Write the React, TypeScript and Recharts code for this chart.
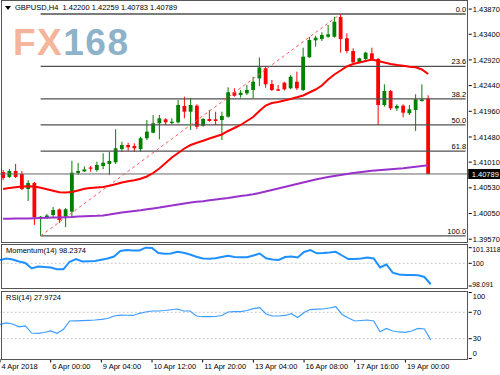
import React from 'react'
import { ComposedChart, Bar, Line, XAxis, YAxis, ReferenceLine } from 'recharts'

const FONT = "'Liberation Sans', Arial, sans-serif"

// GBPUSD H4 candles, 4 Apr 2018 -> 19 Apr 2018
const OPEN = [1.40826, 1.40733, 1.40845, 1.40789, 1.40509, 1.40621, 1.39960, 1.39985, 1.40023, 1.40126,
  1.39991, 1.40084, 1.40808, 1.40836, 1.40910, 1.40863, 1.40938, 1.40976, 1.41007, 1.41256,
  1.41330, 1.41312, 1.41256, 1.41456, 1.41560, 1.41736, 1.41810, 1.41741, 1.41754, 1.42059,
  1.41952, 1.42065, 1.41691, 1.41816, 1.41810, 1.41797, 1.41859, 1.42315, 1.42264, 1.42296,
  1.42358, 1.42575, 1.42763, 1.42470, 1.42371, 1.42494, 1.42390, 1.42513, 1.42358, 1.42969,
  1.43286, 1.43310, 1.43353, 1.43353, 1.43721, 1.43324, 1.43086, 1.42875, 1.42937, 1.43043,
  1.42937, 1.42078, 1.42339, 1.42016, 1.42065, 1.41923, 1.41984, 1.42152, 1.42200]
const HIGH = [1.40863, 1.40882, 1.40976, 1.40845, 1.40677, 1.40639, 1.40004, 1.40042, 1.40172, 1.40144,
  1.40154, 1.41037, 1.40994, 1.40929, 1.40938, 1.41018, 1.41175, 1.41205, 1.41624, 1.41392,
  1.41373, 1.41362, 1.41485, 1.41797, 1.41891, 1.41891, 1.41829, 1.41829, 1.42171, 1.42233,
  1.42203, 1.42091, 1.41835, 1.41984, 1.41952, 1.41952, 1.42408, 1.42390, 1.42358, 1.42451,
  1.42606, 1.42965, 1.42793, 1.42545, 1.42451, 1.42513, 1.42638, 1.42700, 1.43148, 1.43353,
  1.43372, 1.43436, 1.43572, 1.43727, 1.43778, 1.43417, 1.43137, 1.42961, 1.43073, 1.43148,
  1.42956, 1.42464, 1.42358, 1.42091, 1.42091, 1.42078, 1.42278, 1.42464, 1.42259]
const LOW = [1.40677, 1.40714, 1.40714, 1.40490, 1.40284, 1.39836, 1.39631, 1.39948, 1.39985, 1.39873,
  1.39799, 1.39985, 1.40770, 1.40826, 1.40832, 1.40832, 1.40877, 1.40770, 1.40976, 1.41205,
  1.41224, 1.41205, 1.41205, 1.41424, 1.41549, 1.41437, 1.41704, 1.41717, 1.41736, 1.41829,
  1.41611, 1.41629, 1.41672, 1.41766, 1.41704, 1.41424, 1.41840, 1.42233, 1.42214, 1.42264,
  1.42203, 1.42433, 1.42401, 1.42339, 1.42339, 1.42352, 1.42377, 1.42358, 1.42339, 1.42961,
  1.43167, 1.43273, 1.43335, 1.43335, 1.43055, 1.43043, 1.42857, 1.42857, 1.42918, 1.42900,
  1.41704, 1.42046, 1.41984, 1.41966, 1.41848, 1.41891, 1.41592, 1.42141, 1.40783]
const CLOSE = [1.40714, 1.40845, 1.40733, 1.40509, 1.40621, 1.39985, 1.39990, 1.40013, 1.40116, 1.39929,
  1.40129, 1.40813, 1.40845, 1.40873, 1.40888, 1.40957, 1.40999, 1.41032, 1.41269, 1.41330,
  1.41287, 1.41269, 1.41456, 1.41579, 1.41736, 1.41829, 1.41754, 1.41766, 1.42078, 1.41952,
  1.42078, 1.41672, 1.41816, 1.41779, 1.41779, 1.41872, 1.42315, 1.42251, 1.42307, 1.42358,
  1.42513, 1.42778, 1.42464, 1.42358, 1.42345, 1.42371, 1.42606, 1.42390, 1.42980, 1.43292,
  1.43335, 1.43385, 1.43398, 1.43634, 1.43310, 1.43086, 1.42875, 1.42950, 1.43055, 1.42918,
  1.42078, 1.42339, 1.42016, 1.42059, 1.41934, 1.41997, 1.42184, 1.42180, 1.40789]

// moving averages (red fast, purple slow)
const MA_FAST = [1.40508, 1.40527, 1.40542, 1.40553, 1.40561, 1.40555, 1.40531, 1.40503, 1.40475, 1.40449,
  1.40443, 1.40452, 1.40481, 1.40512, 1.40527, 1.40537, 1.40546, 1.40568, 1.40598, 1.40630,
  1.40654, 1.40673, 1.40699, 1.40742, 1.40807, 1.40891, 1.40994, 1.41097, 1.41181, 1.41265,
  1.41330, 1.41373, 1.41411, 1.41452, 1.41489, 1.41527, 1.41592, 1.41648, 1.41704, 1.41779,
  1.41853, 1.41966, 1.42068, 1.42115, 1.42134, 1.42162, 1.42190, 1.42221, 1.42255, 1.42311,
  1.42367, 1.42442, 1.42554, 1.42647, 1.42722, 1.42797, 1.42844, 1.42872, 1.42900, 1.42928,
  1.42900, 1.42872, 1.42844, 1.42825, 1.42812, 1.42793, 1.42782, 1.42741, 1.42657]
const MA_SLOW = [1.39952, 1.39954, 1.39956, 1.39957, 1.39959, 1.39963, 1.39967, 1.39971, 1.39974, 1.39978,
  1.39982, 1.39985, 1.39993, 1.39999, 1.40004, 1.40008, 1.40015, 1.40030, 1.40049, 1.40068,
  1.40083, 1.40098, 1.40112, 1.40129, 1.40144, 1.40161, 1.40182, 1.40200, 1.40219, 1.40238,
  1.40254, 1.40269, 1.40281, 1.40296, 1.40310, 1.40325, 1.40340, 1.40359, 1.40378, 1.40393,
  1.40411, 1.40434, 1.40462, 1.40490, 1.40518, 1.40546, 1.40574, 1.40602, 1.40630, 1.40658,
  1.40686, 1.40710, 1.40733, 1.40751, 1.40770, 1.40789, 1.40808, 1.40822, 1.40835, 1.40849,
  1.40860, 1.40869, 1.40878, 1.40888, 1.40897, 1.40910, 1.40923, 1.40938, 1.40953]

const MOMENTUM = [100.277, 100.403, 100.319, 100.151, 100.025, 99.563, 99.731, 99.689, 99.647, 99.495,
  99.495, 100.134, 100.361, 100.151, 100.168, 100.193, 100.303, 100.403, 100.572, 101.034,
  101.118, 101.076, 101.076, 101.312, 101.287, 100.866, 100.807, 100.824, 100.976, 100.883,
  100.740, 100.555, 100.403, 100.378, 100.420, 100.530, 100.639, 100.530, 100.505, 100.505,
  100.656, 100.824, 100.420, 100.319, 100.277, 100.530, 100.572, 100.488, 100.950, 101.118,
  100.841, 100.866, 100.908, 100.967, 100.656, 100.361, 100.361, 100.403, 100.488, 100.403,
  99.647, 99.899, 99.209, 99.058, 99.016, 99.016, 98.991, 98.848, 98.2374]

const RSI = [51.8, 54.1, 52.3, 48.0, 49.5, 38.6, 38.2, 39.4, 41.7, 38.2,
  43.9, 56.8, 57.1, 57.3, 57.7, 58.3, 59.2, 60.6, 64.4, 65.6,
  65.5, 65.2, 68.5, 70.5, 72.0, 72.0, 72.7, 73.9, 75.0, 72.0,
  72.0, 64.4, 63.3, 63.3, 63.6, 65.2, 70.5, 70.9, 70.9, 72.7,
  75.5, 77.0, 67.4, 64.4, 64.4, 65.2, 67.9, 62.1, 69.7, 74.2,
  74.7, 75.0, 76.5, 78.5, 66.7, 61.4, 56.8, 57.6, 58.3, 56.8,
  40.6, 45.5, 41.7, 40.2, 39.7, 41.7, 45.5, 44.7, 27.9724]

const PRICE_TICKS = [1.4387, 1.434, 1.4292, 1.4244, 1.4196, 1.4148, 1.4101, 1.4053, 1.4005, 1.3957]
const MOM_TICKS = [98.091, 100, 101.3118]
const RSI_TICKS = [0, 30, 70, 100]
const TIME_LABELS = ['4 Apr 2018', '6 Apr 00:00', '9 Apr 04:00', '10 Apr 12:00', '11 Apr 20:00', '13 Apr 04:00', '16 Apr 08:00', '17 Apr 16:00', '19 Apr 00:00']
const TIME_LABEL_BARS = [0, 8, 16, 24, 32, 40, 48, 56, 64]

// fibonacci retracement anchors (bar index, price)
const FIB_FROM = { bar: 6, price: 1.39631 }
const FIB_TO = { bar: 54, price: 1.43778 }
const FIB_LEVELS = [0, 23.6, 38.2, 50, 61.8, 100]

const SLOTS = 75 // room on the right like MT4 chart shift
const LAST = OPEN.length - 1

const rows = Array.from({ length: SLOTS }, (_, i) =>
  i <= LAST
    ? {
        i,
        open: OPEN[i], high: HIGH[i], low: LOW[i], close: CLOSE[i],
        range: [LOW[i], HIGH[i]],
        fast: MA_FAST[i], slow: MA_SLOW[i],
        mom: MOMENTUM[i], rsi: RSI[i],
      }
    : { i }
)

const MARGIN_X = { left: 0, right: 0.25 }
const AXIS_W = 31

function Candle(props: any) {
  const { x, y, width, height, payload } = props
  if (!payload || payload.open == null) return null
  const { open, close, high, low } = payload
  const k = high > low ? height / (high - low) : 0
  const cx = x + width / 2
  const yO = y + (high - open) * k
  const yC = y + (high - close) * k
  const color = close >= open ? '#008000' : '#ff0000'
  return (
    <g>
      <line x1={cx} x2={cx} y1={y} y2={y + height} stroke={color} strokeWidth={1} />
      <rect x={cx - 1.9} y={Math.min(yO, yC)} width={3.8} height={Math.max(Math.abs(yC - yO), 1)} fill={color} />
    </g>
  )
}

const rightTick = (fmt: (v: number) => string, shift: Record<string, number> = {}, size = 7.5) => (props: any) => {
  const { x, y, payload } = props
  const dy = shift[String(payload.value)] || 0
  return (
    <text x={x} y={y + dy} dy="0.35em" fontSize={size} fontFamily={FONT} fill="#000" textAnchor="start">
      {fmt(payload.value)}
    </text>
  )
}

function TimeTick(props: any) {
  const { x, y, payload } = props
  const idx = TIME_LABEL_BARS.indexOf(payload.value)
  if (idx < 0) return null
  return (
    <g>
      <line x1={x} x2={x} y1={y + 0.5} y2={y + 4} stroke="#000" />
      <text x={x + 1.5} y={y + 10} fontSize={7.5} fontFamily={FONT} fill="#000">{TIME_LABELS[idx]}</text>
    </g>
  )
}

const fibLabel = (text: string) => (p: any) => {
  const vb = p.viewBox || {}
  return (
    <text x={vb.x + vb.width + 0.5} y={vb.y - 2} textAnchor="end" fontSize={7.5} fontFamily={FONT} fill="#000">
      {text}
    </text>
  )
}

const priceTag = (p: any) => {
  const vb = p.viewBox || {}
  const x = vb.x + vb.width
  return (
    <g>
      <rect x={x - 0.5} y={vb.y - 5} width={32} height={10} fill="#000" />
      <text x={x + 3} y={vb.y} dy="0.35em" fontSize={7.5} fontFamily={FONT} fill="#fff">{CLOSE[LAST].toFixed(5)}</text>
    </g>
  )
}

const frame = (top: number, height: number): React.CSSProperties => ({
  position: 'absolute', left: 1, top, width: 467, height, boxSizing: 'border-box',
  border: '1px solid #555', pointerEvents: 'none',
})

const small: React.CSSProperties = { position: 'absolute', fontSize: 7.5, lineHeight: '9px', color: '#000', whiteSpace: 'pre' }

export default function App() {
  const fibRange = FIB_TO.price - FIB_FROM.price
  return (
    <div style={{ position: 'relative', width: 500, height: 375, background: '#fff', fontFamily: FONT, overflow: 'hidden' }}>
      <style>{'body{margin:0}'}</style>

      {/* watermark */}
      <div style={{ position: 'absolute', left: 13, top: 24, fontSize: 37, fontWeight: 700, lineHeight: 1, letterSpacing: 1.5 }}>
        <span style={{ color: '#f4b59b' }}>FX</span>
        <span style={{ color: '#8db2ca' }}>168</span>
      </div>

      {/* price panel */}
      <div style={{ position: 'absolute', left: 0, top: 0 }}>
        <ComposedChart width={500} height={244} data={rows} margin={{ top: 2, bottom: 2, ...MARGIN_X }}>
          <XAxis dataKey="i" hide />
          <YAxis
            orientation="right"
            width={AXIS_W}
            domain={[1.39518, 1.44002]}
            allowDataOverflow
            ticks={PRICE_TICKS}
            interval={0}
            axisLine={false}
            tickLine={{ stroke: '#000' }}
            tickSize={3}
            tickMargin={1}
            tick={rightTick(v => v.toFixed(5))}
          />
          {FIB_LEVELS.map(l => {
            const price = FIB_TO.price - (l / 100) * fibRange
            return (
              <ReferenceLine
                key={l}
                segment={[{ x: FIB_FROM.bar, y: price }, { x: SLOTS - 1, y: price }]}
                stroke="#505050"
                strokeWidth={1.3}
                label={fibLabel(l.toFixed(1))}
              />
            )
          })}
          <ReferenceLine y={CLOSE[LAST]} stroke="#666" strokeWidth={1} label={priceTag} />
          <ReferenceLine
            segment={[{ x: FIB_FROM.bar, y: FIB_FROM.price }, { x: FIB_TO.bar, y: FIB_TO.price }]}
            stroke="#ff5a5a"
            strokeDasharray="3 3"
          />
          <Line dataKey="slow" stroke="#9932cc" strokeWidth={2} dot={false} isAnimationActive={false} />
          <Line dataKey="fast" stroke="#ff0000" strokeWidth={2} dot={false} isAnimationActive={false} />
          <Bar dataKey="range" shape={Candle} isAnimationActive={false} />
        </ComposedChart>
      </div>

      {/* momentum panel */}
      <div style={{ position: 'absolute', left: 0, top: 243 }}>
        <ComposedChart width={500} height={47} data={rows} margin={{ top: 2, bottom: 2, ...MARGIN_X }}>
          <XAxis dataKey="i" hide />
          <YAxis
            orientation="right"
            width={AXIS_W}
            domain={[97.923, 101.539]}
            allowDataOverflow
            ticks={MOM_TICKS}
            interval={0}
            axisLine={false}
            tickLine={{ stroke: '#000' }}
            tickSize={3}
            tickMargin={0.5}
            tick={rightTick(v => String(v), { '101.3118': 2.3, '98.091': -1.7 }, 6.9)}
          />
          <ReferenceLine y={100} stroke="#c8c8c8" strokeDasharray="2 2" />
          <Line dataKey="mom" stroke="#1e90ff" strokeWidth={2} dot={false} isAnimationActive={false} />
        </ComposedChart>
      </div>

      {/* rsi panel */}
      <div style={{ position: 'absolute', left: 0, top: 290 }}>
        <ComposedChart width={500} height={85} data={rows} margin={{ top: 2.5, bottom: 0, ...MARGIN_X }}>
          <XAxis
            dataKey="i"
            height={16.5}
            ticks={TIME_LABEL_BARS}
            interval={0}
            axisLine={false}
            tickLine={false}
            tickSize={0}
            tickMargin={0}
            tick={TimeTick}
          />
          <YAxis
            orientation="right"
            width={AXIS_W}
            domain={[0, 100]}
            allowDataOverflow
            ticks={RSI_TICKS}
            interval={0}
            axisLine={false}
            tickLine={{ stroke: '#000' }}
            tickSize={3}
            tickMargin={1}
            tick={rightTick(v => String(v), { '100': 4.3, '0': -5 })}
          />
          <ReferenceLine y={70} stroke="#c8c8c8" strokeDasharray="2 2" />
          <ReferenceLine y={30} stroke="#c8c8c8" strokeDasharray="2 2" />
          <Line dataKey="rsi" stroke="#3d9cff" strokeWidth={1.2} dot={false} isAnimationActive={false} />
        </ComposedChart>
      </div>

      {/* panel frames */}
      <div style={frame(0, 243)} />
      <div style={frame(244, 45)} />
      <div style={frame(291, 69)} />

      {/* titles */}
      <svg style={{ position: 'absolute', left: 5, top: 6 }} width={6} height={5}>
        <polygon points="0,0 6,0 3,4" fill="#000" />
      </svg>
      <div style={{ ...small, left: 15, top: 3 }}>
        {`GBPUSD,H4  ${OPEN[LAST].toFixed(5)} ${HIGH[LAST].toFixed(5)} ${LOW[LAST].toFixed(5)} ${CLOSE[LAST].toFixed(5)}`}
      </div>
      <div style={{ ...small, left: 6, top: 245.5 }}>{`Momentum(14) ${MOMENTUM[LAST].toFixed(4)}`}</div>
      <div style={{ ...small, left: 6, top: 293 }}>{`RSI(14) ${RSI[LAST].toFixed(4)}`}</div>
    </div>
  )
}
